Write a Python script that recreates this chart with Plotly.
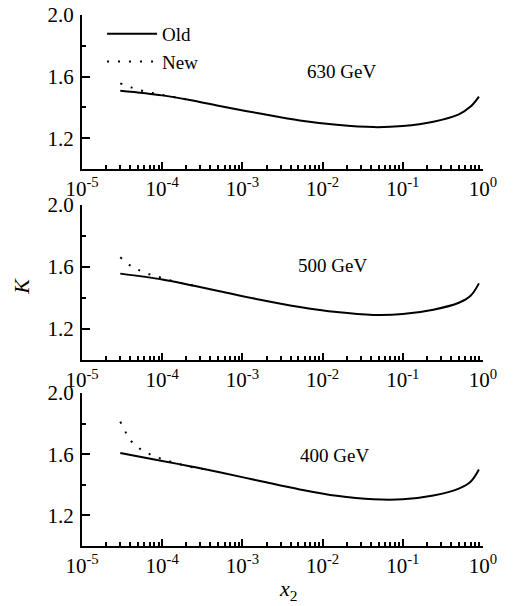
import math
import plotly.graph_objects as go

# ---- data ----
x_old = [3e-5, 1e-4, 2.2e-4, 5.2e-4, 1.66e-3, 5.2e-3, 1.5e-2, 4.3e-2, 0.1, 0.24, 0.5, 0.7, 0.89]
old_630 = [1.508, 1.478, 1.448, 1.409, 1.36, 1.315, 1.287, 1.272, 1.279, 1.307, 1.355, 1.405, 1.47]
old_500 = [1.558, 1.52, 1.485, 1.445, 1.39, 1.343, 1.31, 1.292, 1.297, 1.325, 1.37, 1.415, 1.495]
old_400 = [1.608, 1.556, 1.522, 1.482, 1.425, 1.37, 1.328, 1.305, 1.305, 1.33, 1.375, 1.42, 1.50]

x_new_630 = [3e-5, 4.1e-5, 5.6e-5, 7.5e-5, 1.0e-4, 1.37e-4, 1.87e-4, 2.2e-4]
new_630 = [1.556, 1.53, 1.508, 1.494, 1.481, 1.468, 1.455, 1.448]
x_new_500 = [3e-5, 4.1e-5, 5.6e-5, 7.5e-5, 1.0e-4, 1.37e-4, 1.87e-4, 2.56e-4]
new_500 = [1.663, 1.606, 1.572, 1.548, 1.53, 1.51, 1.493, 1.48]
x_new_400 = [3e-5, 3.5e-5, 4.2e-5, 5.65e-5, 7.6e-5, 1.03e-4, 1.4e-4, 1.89e-4, 2.56e-4, 3.48e-4]
new_400 = [1.813, 1.744, 1.68, 1.625, 1.592, 1.566, 1.545, 1.527, 1.512, 1.502]

panel_labels = ["630 GeV", "500 GeV", "400 GeV"]
label_pos_x = [0.0174, 0.0132, 0.0141]
label_pos_y = [1.63, 1.61, 1.59]

x_tickvals = [1e-5, 1e-4, 1e-3, 1e-2, 1e-1, 1e0]
x_ticktext = ["10<sup>-5</sup>", "10<sup>-4</sup>", "10<sup>-3</sup>",
              "10<sup>-2</sup>", "10<sup>-1</sup>", "10<sup>0</sup>"]
y_tickvals = [1.2, 1.6, 2.0]
y_ticktext = ["1.2", "1.6", "2.0"]
y_minor = [1.4, 1.8]

# ---- figure ----
FONT = "Liberation Serif"
fig = go.Figure()

panels = [
    (x_old, old_630, x_new_630, new_630, "x", "y"),
    (x_old, old_500, x_new_500, new_500, "x2", "y2"),
    (x_old, old_400, x_new_400, new_400, "x3", "y3"),
]
for i, (xo, yo, xn, yn, xa, ya) in enumerate(panels):
    fig.add_trace(go.Scatter(x=xo, y=yo, mode="lines", xaxis=xa, yaxis=ya,
                             line=dict(color="black", width=2, shape="spline"),
                             name="Old", showlegend=(i == 0), legendrank=1))
    fig.add_trace(go.Scatter(x=xn, y=yn, mode="lines", xaxis=xa, yaxis=ya,
                             line=dict(color="black", width=2, dash="2px,9px", shape="spline"),
                             name="New", showlegend=(i == 0), legendrank=2))
    fig.add_annotation(x=math.log10(label_pos_x[i]), y=label_pos_y[i],
                       xref=xa, yref=ya, text=panel_labels[i], showarrow=False,
                       xanchor="center", yanchor="middle",
                       font=dict(family=FONT, size=19, color="black"))

minor_x = [m * 10 ** e for e in range(-5, 0) for m in range(2, 10)]

domains = [(0.710, 1.0), (0.350, 0.642), (0.0, 0.288)]
for i, dom in enumerate(domains):
    sfx = "" if i == 0 else str(i + 1)
    fig.layout["xaxis" + sfx] = dict(
        type="log", range=[-5, 0], domain=[0, 1], anchor="y" + sfx, automargin=False,
        showline=True, linecolor="black", linewidth=2, showgrid=False, zeroline=False,
        tickmode="array", tickvals=x_tickvals, ticktext=x_ticktext,
        ticks="inside", ticklen=7, tickwidth=1.5, tickcolor="black",
        minor=dict(tickmode="array", tickvals=minor_x, ticks="inside", ticklen=4,
                   tickwidth=1.5, tickcolor="black", showgrid=False),
        tickfont=dict(family=FONT, size=21, color="black"),
        ticklabeloverflow="allow",
    )
    fig.layout["yaxis" + sfx] = dict(
        range=[1.0, 2.0], domain=list(dom), anchor="x" + sfx, automargin=False,
        showline=True, linecolor="black", linewidth=2, showgrid=False, zeroline=False,
        tickmode="array", tickvals=y_tickvals, ticktext=y_ticktext,
        ticks="inside", ticklen=8, tickwidth=1.5, tickcolor="black",
        minor=dict(tickmode="array", tickvals=y_minor, ticks="inside", ticklen=4,
                   tickwidth=1.5, tickcolor="black", showgrid=False),
        tickfont=dict(family=FONT, size=21, color="black"),
        ticklabelstandoff=2, ticklabeloverflow="allow",
    )

fig.add_annotation(x=-0.15, y=0.49, xref="paper", yref="paper", text="<i>K</i>",
                   showarrow=False, textangle=-90, xanchor="center", yanchor="middle",
                   font=dict(family=FONT, size=22, color="black"))
fig.add_annotation(x=0.514, y=-0.083, xref="paper", yref="paper",
                   text="<i>x</i><sub>2</sub>", showarrow=False,
                   xanchor="center", yanchor="middle",
                   font=dict(family=FONT, size=22, color="black"))

fig.update_layout(
    template="none",
    width=523, height=606,
    margin=dict(l=82, r=40, t=15, b=60, autoexpand=False),
    paper_bgcolor="white", plot_bgcolor="white",
    showlegend=True,
    legend=dict(x=0.05, y=1.0, xanchor="left", yanchor="top",
                bgcolor="rgba(0,0,0,0)", borderwidth=0, itemwidth=50,
                font=dict(family=FONT, size=19, color="black"),
                tracegroupgap=0),
)

fig.write_html("out.html", config={"displayModeBar": False},
               post_script="document.body.style.margin='0px';")
